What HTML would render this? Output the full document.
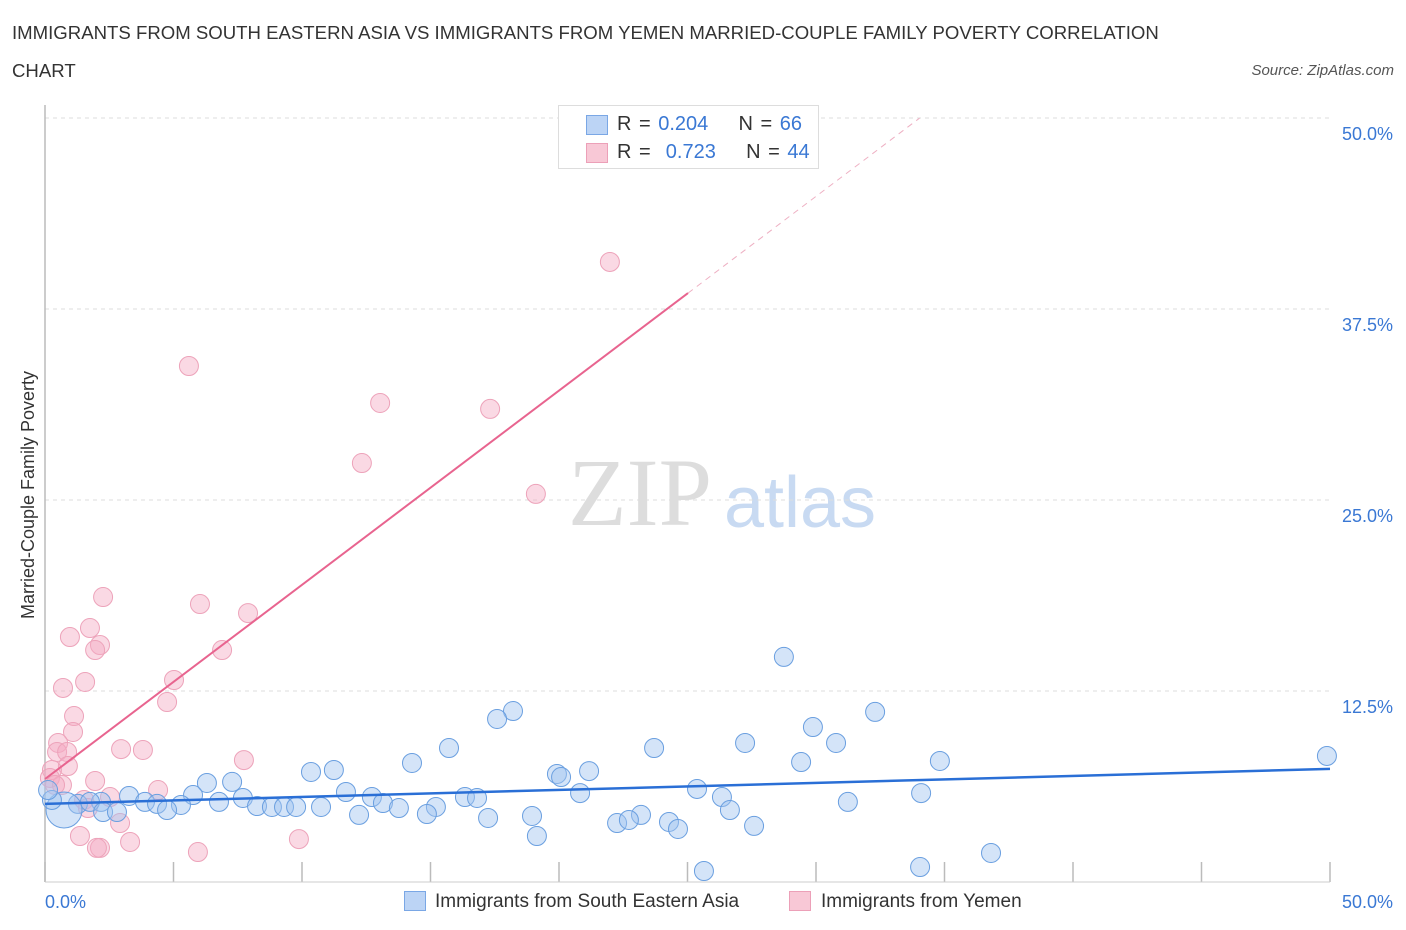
<!DOCTYPE html>
<html><head><meta charset="utf-8"><style>
body{margin:0;background:#fff;font-family:"Liberation Sans",sans-serif;}
#wrap{position:relative;width:1406px;height:930px;overflow:hidden;}
.t{position:absolute;white-space:nowrap;}
</style></head><body><div id="wrap">
<div class="t" style="left:12px;top:14px;font-size:18.6px;color:#333;line-height:38px;">IMMIGRANTS FROM SOUTH EASTERN ASIA VS IMMIGRANTS FROM YEMEN MARRIED-COUPLE FAMILY POVERTY CORRELATION<br>CHART</div>
<div class="t" style="right:12px;top:62px;font-size:15px;color:#555;font-style:italic;">Source: ZipAtlas.com</div>
<svg id="svg" width="1406" height="930" style="position:absolute;left:0;top:0">
<text x="640" y="525" font-family="Liberation Serif,serif" font-size="96" fill="#ddd" text-anchor="middle">ZIP</text>
<text x="800" y="527" font-family="Liberation Sans,sans-serif" font-size="72" fill="#c8daf2" text-anchor="middle">atlas</text>
<g id="g"></g>
<text x="34" y="495" transform="rotate(-90 34 495)" font-size="18" fill="#333" text-anchor="middle">Married-Couple Family Poverty</text>
</svg>
<div style="position:absolute;left:558px;top:105px;width:259px;height:62px;border:1px solid #ddd;background:#fff;font-size:20px;">
<div style="position:absolute;left:27px;top:9px;width:20px;height:18px;background:#bcd4f5;border:1px solid #7aa7e5"></div>
<div class="t" style="left:58px;top:7px;color:#333;word-spacing:2px">R = <span style="color:#3a78d4">0.204</span> &nbsp;&nbsp;&nbsp;N = <span style="color:#3a78d4">66</span></div>
<div style="position:absolute;left:27px;top:37px;width:20px;height:18px;background:#f8c8d6;border:1px solid #eca0b8"></div>
<div class="t" style="left:58px;top:35px;color:#333;word-spacing:2px">R = &nbsp;<span style="color:#3a78d4">0.723</span> &nbsp;&nbsp;&nbsp;N = <span style="color:#3a78d4">44</span></div>
</div>
<div style="position:absolute;left:404px;top:891px;width:20px;height:18px;background:#bcd4f5;border:1px solid #7aa7e5"></div>
<div class="t" style="left:435px;top:891px;font-size:19px;color:#333">Immigrants from South Eastern Asia</div>
<div style="position:absolute;left:789px;top:891px;width:20px;height:18px;background:#f8c8d6;border:1px solid #eca0b8"></div>
<div class="t" style="left:821px;top:891px;font-size:19px;color:#333">Immigrants from Yemen</div>
</div>
<script>
const yTicks=[12.5,25,37.5,50];
const yTickLabels=["12.5%","25.0%","37.5%","50.0%"];
const xTickLabels=["0.0%","50.0%"];
const seaX=[28.75,32.30,18.21,17.59,29.88,15.72,23.70,27.24,30.78,49.88,34.82,29.42,14.28,10.35,11.24,19.92,20.08,21.17,6.30,7.28,25.37,20.82,11.71,3.27,5.76,7.70,12.72,16.34,16.81,26.34,34.09,2.18,3.89,4.36,5.29,6.77,8.25,8.83,9.30,9.77,10.74,13.15,13.77,15.21,31.24,1.28,1.75,2.26,2.80,4.75,12.22,14.86,23.19,24.28,26.65,17.24,18.95,22.26,22.72,24.63,27.59,19.14,36.81,34.05,25.64,0.74,0.27,0.12];
const seaY=[14.73,11.13,11.19,10.67,10.14,8.77,8.77,9.10,9.10,8.25,7.92,7.85,7.79,7.20,7.33,7.07,6.87,7.26,6.48,6.55,6.09,5.82,5.89,5.63,5.69,5.50,5.56,5.56,5.50,5.56,5.82,5.24,5.24,5.11,5.04,5.24,4.97,4.91,4.91,4.91,4.91,5.17,4.84,4.91,5.24,5.11,5.24,4.58,4.58,4.71,4.39,4.45,4.39,3.93,4.71,4.19,4.32,3.86,4.06,3.47,3.67,3.01,1.90,0.98,0.72,4.71,5.37,6.02];
const yemX=[21.98,5.60,13.04,17.32,12.33,19.10,2.26,6.03,7.90,0.97,1.75,2.14,1.95,6.89,1.56,0.70,5.02,4.75,1.13,1.09,0.51,0.47,0.86,0.89,0.27,0.19,2.96,3.81,7.74,4.40,1.95,0.66,1.52,1.67,2.92,1.36,2.14,2.02,3.31,5.95,9.88,0.39,2.53];
const yemY=[40.58,33.77,31.35,30.96,27.42,25.40,18.65,18.19,17.60,16.03,16.62,15.51,15.18,15.18,13.09,12.70,13.22,11.78,10.86,9.82,9.10,8.51,8.51,7.59,7.33,6.81,8.70,8.64,7.98,6.02,6.61,6.35,5.37,4.84,3.86,3.01,2.23,2.23,2.62,1.96,2.81,6.35,5.56];
const seaTrend=[5.11,0.0458];
const yemTrend=[6.74,1.271];
const X=v=>45+v/50*1285, Y=v=>882-v/12.5*191;
const g=document.getElementById('g'),NS='http://www.w3.org/2000/svg';
function mk(t,a){const e=document.createElementNS(NS,t);for(const k in a)e.setAttribute(k,a[k]);g.appendChild(e);return e;}
yTicks.forEach((v,i)=>{
 const l=mk('line',{x1:45,x2:1330,y1:Y(v),y2:Y(v),stroke:'#ddd','stroke-dasharray':'4,4'});
 
 
 const t=mk('text',{x:1393,y:Y(v)+22,'font-size':18,fill:'#3a78d4','text-anchor':'end'});t.textContent=yTickLabels[i];
 
 
});
for(let i=0;i<=10;i++){const l=mk('line',{x1:X(i*5),x2:X(i*5),y1:862,y2:882,stroke:'#bbb','stroke-width':1.5});
 
 }
let a=mk('line',{x1:45,x2:45,y1:105,y2:882,stroke:'#bbb','stroke-width':1.5});


a=mk('line',{x1:45,x2:1330,y1:882,y2:882,stroke:'#ccc'});


[[0,45,'start'],[50,1393,'end']].forEach((d,i)=>{const t=mk('text',{x:d[1],y:908,'font-size':18,fill:'#3a78d4','text-anchor':d[2]});t.textContent=xTickLabels[i];
 
 });
yemX.forEach((x,i)=>{const c=mk('circle',{cx:X(x),cy:Y(yemY[i]),r:9.5,fill:'rgba(245,170,195,0.45)',stroke:'#eda3ba','stroke-width':1});
 
 });
seaX.forEach((x,i)=>{const big=i==65;const c=mk('circle',{cx:X(x),cy:Y(seaY[i]),r:big?18:9.5,fill:'rgba(160,195,240,0.45)',stroke:'#6a9fe0','stroke-width':1});
 
 });
let l=mk('line',{x1:X(0),y1:Y(seaTrend[0]),x2:X(50),y2:Y(seaTrend[0]+50*seaTrend[1]),stroke:'#2a6fd6','stroke-width':2.5});


const xe=25.02,xd=(50-yemTrend[0])/yemTrend[1];
l=mk('line',{x1:X(0),y1:Y(yemTrend[0]),x2:X(xe),y2:Y(yemTrend[0]+xe*yemTrend[1]),stroke:'#e8648f','stroke-width':2});


l=mk('line',{x1:X(xe),y1:Y(yemTrend[0]+xe*yemTrend[1]),x2:X(xd),y2:Y(50),stroke:'#eeb0c3','stroke-width':1,'stroke-dasharray':'6,5'});


</script></body></html>
